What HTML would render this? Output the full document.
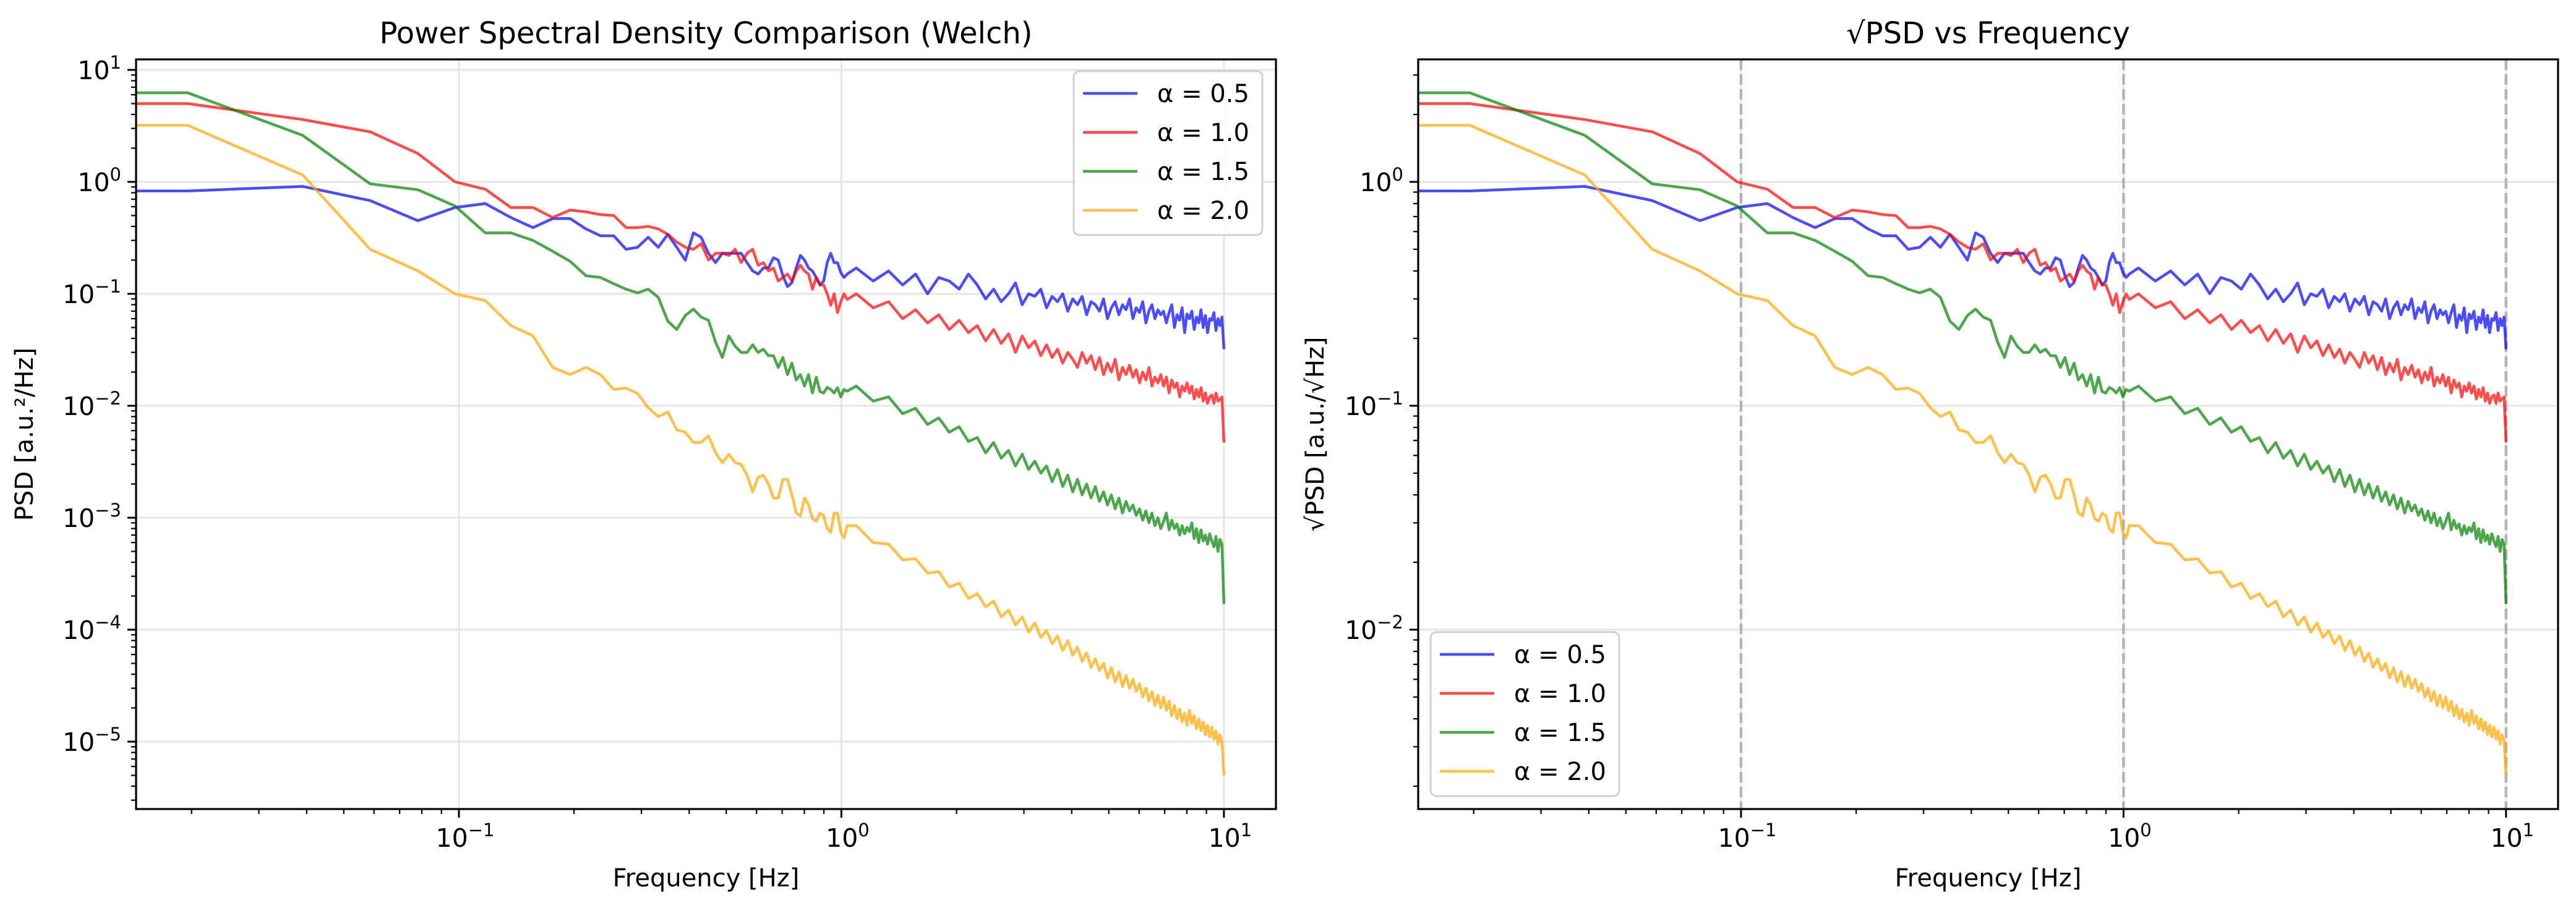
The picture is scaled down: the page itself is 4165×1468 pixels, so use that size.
<!DOCTYPE html>
<html><head><meta charset="utf-8"><title>PSD Comparison</title>
<style>
html,body{margin:0;padding:0;background:#fff;}
svg{display:block;font-family:"DejaVu Sans","Liberation Sans",sans-serif;}
</style></head>
<body>
<svg id="fig" xmlns="http://www.w3.org/2000/svg" width="4165" height="1468" viewBox="0 0 4165 1468">
<rect x="0" y="0" width="4165" height="1468" fill="#fff"/>
</svg>
<script>
// ---- data ----
const DF = 0.01953125;
const bins = [1,2,3,4,5,6,7,8,9,10,11,12,13,14,15,16,17,18,19,20,21,22,23,24,25,26,27,28,29,30,31,32,33,34,35,36,37,38,39,40,41,42,43,44,45,46,47,48,49,50,51,52,53,
56,62,68,74,80,86,92,98,104,110,116,122,128,134,140,146,152,158,164,170,176,182,188,194,200,206,212,218,224,230,236,242,248,254,260,266,272,278,284,290,296,302,308,314,320,326,332,338,344,350,356,362,368,374,380,386,392,398,404,410,416,422,428,434,440,446,452,458,464,470,476,482,488,494,500,506,512];
const seriesLabels = ["α = 0.5","α = 1.0","α = 1.5","α = 2.0"];
const psdA05 = [0.83,0.91,0.68,0.45,0.59,0.64,0.48,0.39,0.47,0.47,0.38,0.33,0.33,0.25,0.26,0.32,0.26,0.34,0.26,0.20,0.35,0.32,0.23,0.19,0.23,0.23,0.23,0.23,0.19,0.16,0.15,0.17,0.17,0.21,0.20,0.145,0.116,0.126,0.17,0.22,0.20,0.17,0.16,0.14,0.12,0.13,0.19,0.23,0.19,0.19,0.155,0.14,0.15,
0.17,0.13,0.16,0.12,0.15,0.10,0.14,0.13,0.11,0.15,
0.12,0.09,0.11,0.085,0.10,0.125,0.08,0.10,0.095,0.11,
0.075,0.095,0.085,0.10,0.07,0.09,0.08,0.095,0.065,0.085,
0.08,0.07,0.09,0.06,0.075,0.085,0.065,0.08,0.072,0.09,
0.06,0.075,0.068,0.085,0.055,0.07,0.08,0.06,0.072,0.065,
0.07,0.055,0.068,0.08,0.05,0.065,0.058,0.075,0.045,0.066,
0.06,0.07,0.048,0.062,0.055,0.072,0.05,0.064,0.045,0.06,
0.058,0.068,0.047,0.06,0.052,0.062,0.032];
const psdA10 = [5.0,3.6,2.8,1.79,1.0,0.86,0.59,0.59,0.48,0.56,0.54,0.51,0.50,0.39,0.39,0.40,0.38,0.34,0.29,0.26,0.25,0.28,0.20,0.23,0.23,0.22,0.25,0.19,0.23,0.25,0.18,0.19,0.16,0.17,0.13,0.14,0.15,0.13,0.16,0.18,0.16,0.15,0.11,0.14,0.12,0.12,0.10,0.079,0.10,0.068,0.085,0.10,0.089,
0.10,0.075,0.085,0.06,0.072,0.055,0.065,0.048,0.058,0.045,
0.052,0.038,0.048,0.036,0.044,0.03,0.042,0.033,0.038,0.028,
0.035,0.027,0.032,0.024,0.03,0.026,0.022,0.03,0.024,0.028,
0.021,0.027,0.019,0.024,0.02,0.026,0.017,0.022,0.019,0.023,
0.018,0.021,0.016,0.02,0.017,0.022,0.015,0.018,0.016,0.019,
0.015,0.018,0.013,0.017,0.0145,0.016,0.012,0.015,0.0135,0.016,
0.013,0.015,0.0115,0.014,0.012,0.0145,0.011,0.013,0.0105,0.012,
0.0125,0.0105,0.013,0.011,0.0115,0.012,0.0047];
const psdA15 = [6.25,2.6,0.96,0.85,0.61,0.35,0.35,0.30,0.24,0.195,0.145,0.14,0.123,0.11,0.102,0.11,0.093,0.057,0.048,0.064,0.073,0.062,0.058,0.037,0.027,0.042,0.034,0.030,0.030,0.035,0.030,0.032,0.028,0.028,0.022,0.027,0.019,0.024,0.017,0.019,0.015,0.019,0.013,0.018,0.0134,0.013,0.0146,0.014,0.013,0.0145,0.012,0.014,0.0135,
0.015,0.011,0.012,0.0085,0.0095,0.0068,0.0078,0.0058,0.0065,0.0048,
0.0052,0.0038,0.0047,0.0034,0.004,0.0029,0.0037,0.0027,0.0032,0.0025,
0.0029,0.0021,0.0027,0.0019,0.0024,0.0017,0.0022,0.0016,0.002,0.0015,
0.0019,0.0014,0.0017,0.0013,0.0016,0.0012,0.0015,0.0011,0.0014,0.00115,
0.0013,0.00105,0.0012,0.00095,0.00115,0.0009,0.0011,0.00085,0.001,0.0008,
0.00092,0.0011,0.00078,0.00095,0.0008,0.00088,0.0007,0.00085,0.00072,0.00082,
0.00075,0.0009,0.00065,0.0008,0.0006,0.00078,0.00062,0.0007,0.00058,0.00072,
0.00062,0.00055,0.00068,0.0005,0.00064,0.00058,0.00017];
const psdA20 = [3.2,1.15,0.25,0.16,0.10,0.087,0.052,0.042,0.022,0.019,0.022,0.019,0.014,0.0144,0.0129,0.0096,0.0080,0.0088,0.0061,0.0058,0.0047,0.0047,0.0054,0.0038,0.0031,0.0037,0.0031,0.0030,0.0024,0.0017,0.0023,0.0024,0.0020,0.0015,0.0015,0.0022,0.0022,0.0016,0.0011,0.00104,0.0015,0.0013,0.00098,0.00093,0.0011,0.00104,0.0008,0.00074,0.0011,0.0011,0.00074,0.00066,0.00085,
8.5e-4,6.0e-4,5.8e-4,4.2e-4,4.3e-4,3.2e-4,3.3e-4,2.4e-4,2.6e-4,1.9e-4,
2.1e-4,1.6e-4,1.8e-4,1.3e-4,1.5e-4,1.1e-4,1.3e-4,9.5e-5,1.15e-4,8.5e-5,
9.8e-5,7.5e-5,8.8e-5,6.5e-5,8.0e-5,5.9e-5,7.0e-5,5.2e-5,6.2e-5,4.6e-5,
5.5e-5,4.3e-5,5.0e-5,3.7e-5,4.6e-5,3.4e-5,4.2e-5,3.1e-5,3.9e-5,3.0e-5,
3.6e-5,2.8e-5,3.3e-5,2.5e-5,3.0e-5,2.3e-5,2.8e-5,2.1e-5,2.6e-5,2.0e-5,
2.5e-5,1.9e-5,2.3e-5,1.7e-5,2.1e-5,1.6e-5,1.95e-5,1.5e-5,1.8e-5,1.4e-5,
1.9e-5,1.45e-5,1.7e-5,1.3e-5,1.6e-5,1.25e-5,1.5e-5,1.15e-5,1.4e-5,1.1e-5,
1.35e-5,1.05e-5,1.25e-5,9.5e-6,1.15e-5,1.0e-5,5.0e-6];
const leftYTicks = [1,0,-1,-2,-3,-4,-5];
const rightYTicks = [0,-1,-2];
const xTicks = [-1,0,1];
const markerFreqs = [0.1,1,10];

// ---- rendering ----
const NS = "http://www.w3.org/2000/svg";
const svg = document.getElementById("fig");
function el(tag, attrs, parent){
  const e = document.createElementNS(NS, tag);
  for (const k in attrs) e.setAttribute(k, attrs[k]);
  (parent||svg).appendChild(e);
  return e;
}
const colors = ["#0000ff","#ff0000","#008000","#ffa500"];
const seriesNames = ["series-alpha-0-5","series-alpha-1-0","series-alpha-1-5","series-alpha-2-0"];
const freqs = bins.map(k => k*DF);
const allSeries = [psdA05, psdA10, psdA15, psdA20];
const sqrtSeries = allSeries.map(s => s.map(v => Math.sqrt(v)));

const XL0 = -1.844, XL1 = 1.136;
function makeAxes(x0, x1, y0, y1, ylmin, ylmax){
  return {x0,x1,y0,y1,
    x: f => x0 + (Math.log10(f)-XL0)/(XL1-XL0)*(x1-x0),
    y: v => y1 - (Math.log10(v)-ylmin)/(ylmax-ylmin)*(y1-y0),
    ylmin, ylmax};
}
const axL = makeAxes(220, 2063, 96, 1308, -5.602, 1.094);
const axR = makeAxes(2293, 4136, 96, 1308, -2.801, 0.547);

function supLabel(g, x, y, exp, anchor){
  const t = el("text", {x:x, y:y, "font-size":"41", fill:"#000", "text-anchor":anchor}, g);
  const a = document.createElementNS(NS,"tspan"); a.textContent = "10"; t.appendChild(a);
  const b = document.createElementNS(NS,"tspan");
  b.setAttribute("dy","-17"); b.setAttribute("font-size","29");
  b.textContent = exp < 0 ? "\u2212" + (-exp) : String(exp);
  t.appendChild(b);
  return t;
}

function drawPanel(ax, data, yTicks, opts){
  const g = el("g", {});
  
  
  const clipId = opts.name + "-clip";
  const cp = el("clipPath", {id: clipId}, g);
  el("rect", {x:ax.x0, y:ax.y0, width:ax.x1-ax.x0, height:ax.y1-ax.y0}, cp);
  // grid
  const grid = el("g", {stroke:"#e6e6e6", "stroke-width":"3"}, g);
  
  
  yTicks.forEach(e => { const yy = ax.y(Math.pow(10,e)); el("line",{x1:ax.x0,x2:ax.x1,y1:yy,y2:yy},grid); });
  xTicks.forEach(e => { const xx = ax.x(Math.pow(10,e)); el("line",{x1:xx,x2:xx,y1:ax.y0,y2:ax.y1},grid); });
  if (opts.markers){
    markerFreqs.forEach(f => {
      const xx = ax.x(f);
      const l = el("line",{x1:xx,x2:xx,y1:ax.y0,y2:ax.y1,stroke:"#b4b4b4","stroke-width":"4.5","stroke-dasharray":"17 7"}, g);
      
      
    });
  }
  // series
  const sg = el("g", {"clip-path":"url(#"+clipId+")"}, g);
  data.forEach((s, i) => {
    let d = "M" + (ax.x0-5) + "," + ax.y(s[0]).toFixed(1);
    for (let j=0;j<s.length;j++) d += " L" + ax.x(freqs[j]).toFixed(1) + "," + ax.y(s[j]).toFixed(1);
    const p = el("path", {d:d, fill:"none", stroke:colors[i], "stroke-width":"4.5", "stroke-opacity":"0.7", "stroke-linejoin":"round"}, sg);
    
    
  });
  // frame
  const fr = el("rect", {x:ax.x0, y:ax.y0, width:ax.x1-ax.x0, height:ax.y1-ax.y0, fill:"none", stroke:"#000", "stroke-width":"3.2"}, g);
  
  
  // ticks
  const tk = el("g", {stroke:"#000"}, g);
  for (let e=-3; e<=1; e++){
    for (let m=1;m<=9;m++){
      const f = m*Math.pow(10,e);
      const lf = Math.log10(f);
      if (lf < XL0 || lf > XL1) continue;
      const xx = ax.x(f);
      const major = m===1;
      el("line",{x1:xx,x2:xx,y1:ax.y1,y2:ax.y1+(major?14:8),"stroke-width":major?3:2.2},tk);
    }
  }
  for (let e=-7; e<=2; e++){
    for (let m=1;m<=9;m++){
      const v = m*Math.pow(10,e);
      const lv = Math.log10(v);
      if (lv < ax.ylmin || lv > ax.ylmax) continue;
      const yy = ax.y(v);
      const major = m===1;
      el("line",{x1:ax.x0,x2:ax.x0-(major?14:8),y1:yy,y2:yy,"stroke-width":major?3:2.2},tk);
    }
  }
  const xl = el("g", {}, g);
  
  
  xTicks.forEach(e => supLabel(xl, ax.x(Math.pow(10,e))+10, 1369, e, "middle"));
  const yl = el("g", {}, g);
  
  
  yTicks.forEach(e => supLabel(yl, ax.x0-24, ax.y(Math.pow(10,e))+15, e, "end"));
  // labels
  const cx = (ax.x0+ax.x1)/2;
  const ttl = el("text",{x:cx, y:70, "font-size":"48", "text-anchor":"middle", fill:"#000"}, g);
  ttl.textContent = opts.title;
  
  
  const xlab = el("text",{x:cx, y:1433, "font-size":"40", "text-anchor":"middle", fill:"#000"}, g);
  xlab.textContent = "Frequency [Hz]";
  
  
  const ylab = el("text",{x:0, y:0, "font-size":"40", "text-anchor":"middle", fill:"#000",
    transform:"translate("+opts.ylabX+","+((ax.y0+ax.y1)/2)+") rotate(-90)"}, g);
  ylab.textContent = opts.ylabel;
  
  
  // legend
  const lg = el("g", {}, g);
  
  
  const L = opts.legend;
  el("rect",{x:L.x, y:L.y, width:305, height:265, rx:9, fill:"#fff", "fill-opacity":"0.85", stroke:"#d0d0d0", "stroke-width":"3"}, lg);
  seriesLabels.forEach((lab,i) => {
    const ey = L.y + 36 + i*63;
    const ent = el("g", {}, lg);
    
    
    el("line",{x1:L.x+15, x2:L.x+103, y1:ey, y2:ey, stroke:colors[i], "stroke-width":"4.5", "stroke-opacity":"0.7"}, ent);
    const t = el("text",{x:L.x+135, y:ey+14, "font-size":"40", fill:"#000"}, ent);
    t.textContent = lab;
  });
}

drawPanel(axL, allSeries, leftYTicks, {name:"psd-panel", title:"Power Spectral Density Comparison (Welch)",
  ylabel:"PSD [a.u.\u00b2/Hz]", ylabX:53, markers:false, legend:{x:1736, y:115}});
drawPanel(axR, sqrtSeries, rightYTicks, {name:"sqrt-psd-panel", title:"\u221aPSD vs Frequency",
  ylabel:"\u221aPSD [a.u./\u221aHz]", ylabX:2140, markers:true, legend:{x:2313, y:1022}});
</script>
</body></html>
